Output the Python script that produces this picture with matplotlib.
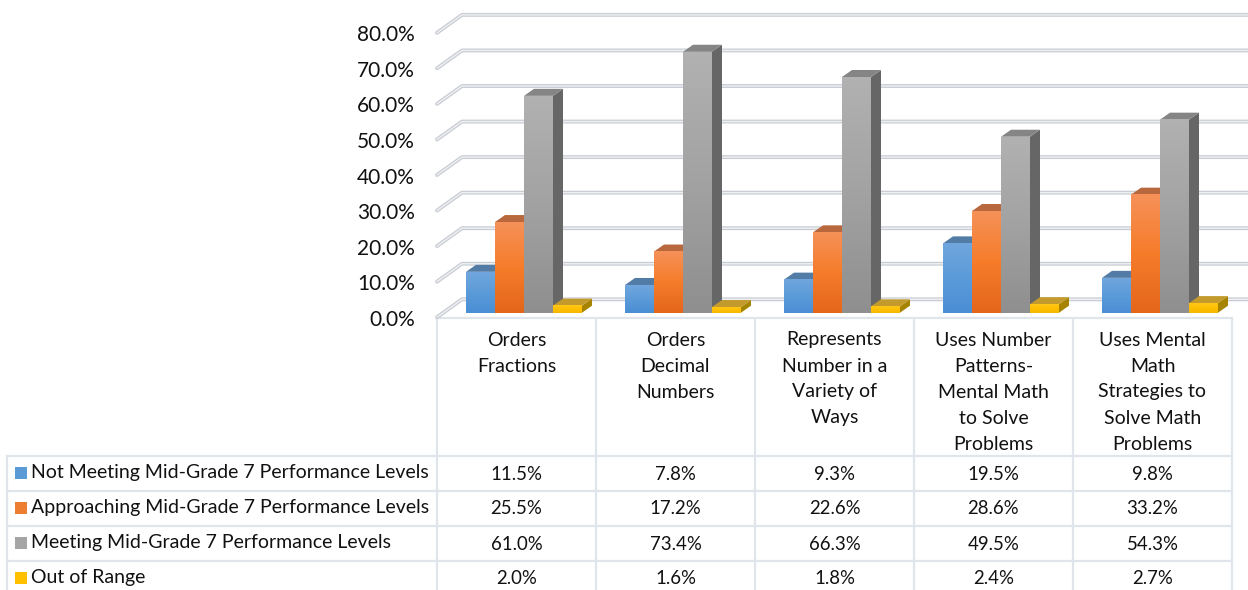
import numpy as np
import matplotlib
matplotlib.use('Agg')
import matplotlib.pyplot as plt
from matplotlib.colors import LinearSegmentedColormap
from matplotlib.patches import Polygon, Rectangle

plt.rcParams['font.family'] = ['Lato', 'DejaVu Sans']

categories = ['Orders\nFractions', 'Orders\nDecimal\nNumbers',
              'Represents\nNumber in a\nVariety of\nWays',
              'Uses Number\nPatterns-\nMental Math\nto Solve\nProblems',
              'Uses Mental\nMath\nStrategies to\nSolve Math\nProblems']
series_names = ['Not Meeting Mid-Grade 7 Performance Levels',
                'Approaching Mid-Grade 7 Performance Levels',
                'Meeting Mid-Grade 7 Performance Levels',
                'Out of Range']
not_meeting = [11.5, 7.8, 9.3, 19.5, 9.8]
approaching = [25.5, 17.2, 22.6, 28.6, 33.2]
meeting = [61.0, 73.4, 66.3, 49.5, 54.3]
out_of_range = [2.0, 1.6, 1.8, 2.4, 2.7]
y_ticks = [0, 10, 20, 30, 40, 50, 60, 70, 80]

W, H = 1248, 590
# front face gradient (top to bottom), top face, side face, legend key
styles = [
    (['#70a6dd', '#5b9bd9', '#4a8ed4'], '#527ba6', '#41699a', '#5b9bd5'),
    (['#f59158', '#f67c2a', '#e4661b'], '#b9673c', '#a9572a', '#ed7d31'),
    (['#b1b1b1', '#a2a2a2', '#8f8f8f'], '#858585', '#666666', '#a5a5a5'),
    (['#ffc71a', '#ffc000', '#f5b800'], '#c39b2d', '#a68400', '#ffc000'),
]
all_values = [not_meeting, approaching, meeting, out_of_range]

fig = plt.figure(figsize=(W / 100, H / 100), dpi=100)

# table sits in an overlay using pixel coordinates
tab = fig.add_axes([0, 0, 1, 1])
tab.set_xlim(0, W)
tab.set_ylim(H, 0)
tab.axis('off')

col_x = [437, 596, 755, 914, 1073, 1232]
row_y = [456, 491, 526, 561, 596]
line_c = '#e0e4eb'
for x in col_x:
    tab.plot([x, x], [318, H], color=line_c, lw=1.6, solid_capstyle='butt')
tab.plot([437, 1232], [318, 318], color=line_c, lw=1.6)
for y in row_y[:-1]:
    tab.plot([7, 1232], [y, y], color=line_c, lw=1.6)
tab.plot([7, 7], [456, H], color=line_c, lw=1.6)

for i, cat in enumerate(categories):
    cx = (col_x[i] + col_x[i + 1]) / 2
    for k, part in enumerate(cat.split('\n')):
        tab.text(cx, 340 + k * 26, part, ha='center', va='center',
                 fontsize=14, color='#111111')

for r, name in enumerate(series_names):
    cy = (row_y[r] + row_y[r + 1]) / 2 - 1
    tab.add_patch(Rectangle((15, cy - 6), 12, 12, color=styles[r][3], lw=0))
    tab.text(31, cy, name, ha='left', va='center', fontsize=14, color='#111111')
    for i, v in enumerate(all_values[r]):
        cx = (col_x[i] + col_x[i + 1]) / 2
        tab.text(cx, cy + 1.5, '%.1f%%' % v, ha='center', va='center',
                 fontsize=13.4, color='#111111')

# chart axes: x in categories, y in percent
px_per_pct = 3.555
base_px = 312.7
top_px = base_px - 80 * px_per_pct
ax = fig.add_axes([437 / W, 1 - base_px / H, (1232 - 437) / W, (base_px - top_px) / H])
ax.patch.set_alpha(0)
ax.axis('off')

px_per_cat = 159.0
def dx(px):
    return px / px_per_cat
def dy(px):
    return px / px_per_pct

# wall and floor gridlines
front_x, back_x = dx(0), dx(25)
front_off, back_off = dy(-4.5), dy(13.4)
right_x = dx(W - 437)
for t in y_ticks:
    xs = [front_x, back_x, right_x]
    ys = [t + front_off, t + back_off, t + back_off]
    ax.plot(xs, ys, color='#c9cdd3', lw=2.8, clip_on=False, zorder=1,
            solid_capstyle='round', solid_joinstyle='round')
    ax.plot(xs, ys, color='#eef0f3', lw=1.0, clip_on=False, zorder=1.1,
            solid_capstyle='round', solid_joinstyle='round')
    ax.text(dx(-22), t + front_off - dy(2.5), '%.1f%%' % t, ha='right', va='center',
            fontsize=15, color='#111111', clip_on=False)

# 3D bars
bar_w = dx(29)
first = dx(29)
depth_x, depth_y = dx(10), dy(7)
z = 2
for i in range(len(categories)):
    for s, values in enumerate(all_values):
        v = values[i]
        x0 = i + first + s * bar_w
        x1 = x0 + bar_w
        grad, top_c, side_c, _ = styles[s]
        ax.add_patch(Polygon([(x1, 0), (x1 + depth_x, depth_y),
                              (x1 + depth_x, v + depth_y), (x1, v)],
                             closed=True, color=side_c, lw=0, zorder=z, clip_on=False))
        ax.add_patch(Polygon([(x0, v), (x1, v), (x1 + depth_x, v + depth_y),
                              (x0 + depth_x, v + depth_y)],
                             closed=True, color=top_c, lw=0, zorder=z, clip_on=False))
        cmap = LinearSegmentedColormap.from_list('face', grad)
        ax.imshow(np.linspace(0, 1, 64).reshape(-1, 1), cmap=cmap, aspect='auto',
                  extent=(x0, x1, 0, v), origin='upper', zorder=z + 0.1, clip_on=False)
        z += 0.2

ax.set_xlim(0, 5)
ax.set_ylim(0, 80)

fig.savefig('out.png', dpi=100)
